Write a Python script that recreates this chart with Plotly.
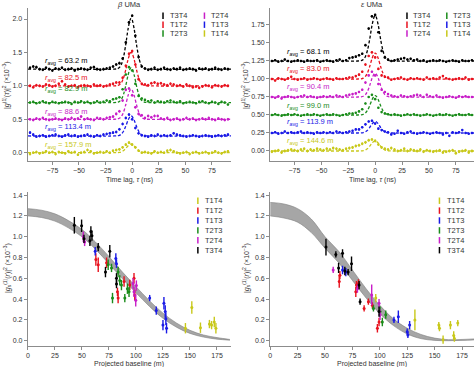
import plotly.graph_objects as go

W, H = 474, 367


def fx(x):
    return x / W


def fy(y):
    return 1 - y / H


# ---------------- data : top panels (time lag, ns) ----------------
tau_ns = list(range(-96, 91, 3))  # 63 lag bins

# beta UMa (values x1e-3, before vertical offset)
bUMa_T3T4 = [0.02, 0.04, 0.03, 0.00, -0.01, 0.02, 0.00, -0.02, 0.01,
             0.00, 0.02, -0.01, 0.00, 0.01, -0.02, 0.00, 0.01, 0.00,
             -0.01, 0.02, 0.03, 0.00, -0.01, 0.00, 0.01, 0.02, 0.04,
             0.07, 0.09, 0.16, 0.40, 0.70, 0.80, 0.50, 0.18, 0.04,
             0.01, -0.01, 0.00, 0.02, -0.01, 0.00, 0.02, 0.00, -0.01,
             0.01, 0.00, 0.02, -0.01, 0.00, 0.01, 0.00, -0.02, 0.01,
             0.00, 0.01, -0.01, 0.00, 0.02, 0.00, -0.01, 0.01, 0.00]
bUMa_T1T2 = [0.00, -0.02, 0.01, 0.00, -0.01, 0.02, 0.01, -0.01, 0.00,
             0.03, 0.07, 0.02, -0.01, 0.00, 0.01, -0.02, 0.00, 0.01,
             0.00, -0.01, 0.02, 0.00, 0.01, -0.01, 0.00, 0.02, 0.03,
             0.05, 0.05, 0.12, 0.30, 0.48, 0.52, 0.32, 0.10, 0.03,
             0.02, 0.01, 0.04, 0.05, 0.03, 0.04, 0.02, 0.01, 0.03,
             0.02, 0.00, 0.01, -0.01, 0.02, 0.00, -0.02, -0.01, -0.03,
             -0.01, 0.01, 0.00, -0.02, 0.01, 0.00, -0.01, 0.01, 0.00]
bUMa_T2T3 = [0.00, 0.01, -0.01, 0.00, 0.02, 0.00, -0.01, 0.01, 0.00,
             -0.01, 0.00, 0.01, 0.00, -0.02, 0.01, 0.00, 0.02, 0.00,
             0.01, -0.01, 0.00, 0.02, 0.00, 0.01, 0.03, 0.02, 0.05,
             0.06, 0.08, 0.20, 0.42, 0.53, 0.48, 0.28, 0.10, 0.06,
             0.04, 0.02, 0.03, 0.00, 0.02, 0.01, 0.00, 0.02, 0.03,
             0.01, 0.00, 0.02, -0.01, 0.00, 0.01, 0.00, -0.01, 0.01,
             0.02, 0.00, -0.01, 0.01, 0.00, -0.02, 0.01, 0.00, -0.03]
bUMa_T2T4 = [0.00, -0.01, 0.01, 0.00, 0.02, 0.00, -0.01, 0.00, 0.01,
             0.00, -0.01, 0.01, 0.00, 0.02, 0.00, 0.01, 0.04, 0.00,
             0.01, 0.00, -0.01, 0.02, 0.01, 0.00, 0.02, 0.03, 0.04,
             0.08, 0.12, 0.28, 0.44, 0.46, 0.36, 0.18, 0.08, 0.06,
             0.02, 0.05, 0.03, 0.05, 0.05, 0.01, 0.00, 0.02, -0.01,
             0.00, 0.01, -0.01, 0.00, 0.02, 0.00, 0.01, -0.01, 0.00,
             0.01, 0.00, 0.02, 0.00, -0.01, 0.01, 0.00, -0.01, 0.00]
bUMa_T1T3 = [0.05, 0.02, -0.01, 0.00, 0.01, -0.01, 0.00, 0.01, 0.02,
             0.00, -0.01, 0.01, 0.02, 0.00, 0.01, -0.01, 0.00, 0.01,
             0.02, 0.00, -0.01, 0.01, 0.00, 0.02, 0.03, 0.04, 0.05,
             0.06, 0.10, 0.18, 0.27, 0.32, 0.25, 0.12, 0.04, 0.01,
             0.00, -0.01, 0.01, 0.00, 0.02, 0.00, 0.01, 0.00, 0.01,
             0.04, 0.02, 0.01, 0.00, -0.01, 0.00, 0.01, 0.00, -0.01,
             0.00, 0.01, 0.00, -0.01, 0.00, 0.01, 0.00, 0.01, 0.02]
bUMa_T1T4 = [-0.02, 0.00, 0.01, -0.01, 0.00, 0.02, 0.00, 0.01, -0.02,
             0.01, 0.00, -0.01, 0.02, 0.00, 0.01, -0.03, 0.00, 0.01,
             0.04, 0.02, -0.01, 0.00, 0.01, 0.00, 0.02, 0.00, 0.03,
             0.04, 0.05, 0.08, 0.12, 0.15, 0.12, 0.08, 0.03, 0.00,
             0.01, 0.00, -0.01, 0.02, 0.00, 0.01, 0.00, 0.03, 0.04,
             0.02, 0.00, -0.01, 0.00, 0.01, -0.02, 0.00, 0.01, -0.01,
             0.00, 0.01, -0.01, 0.00, 0.02, 0.00, -0.01, 0.01, 0.02]

# epsilon UMa
eUMa_T3T4 = [0.00, 0.01, -0.01, 0.00, 0.02, 0.00, -0.01, 0.00, 0.01,
             0.00, -0.01, 0.01, 0.00, 0.00, 0.01, -0.01, 0.00, 0.01,
             0.00, -0.01, 0.01, 0.02, 0.00, 0.01, 0.04, 0.05, 0.06,
             0.08, 0.10, 0.22, 0.45, 0.62, 0.64, 0.40, 0.14, 0.05,
             0.02, 0.00, 0.01, 0.02, 0.03, 0.04, 0.02, 0.03, 0.01,
             0.02, 0.00, 0.01, -0.01, 0.00, 0.01, 0.00, 0.01, 0.00,
             -0.01, 0.00, 0.01, 0.00, -0.01, 0.01, 0.00, 0.00, 0.01]
eUMa_T1T2 = [0.00, -0.02, 0.01, 0.00, -0.01, 0.01, 0.03, 0.00, -0.01,
             0.00, 0.01, -0.01, 0.00, 0.01, 0.00, -0.01, 0.00, 0.01,
             0.00, -0.01, 0.01, 0.00, 0.00, 0.01, 0.02, 0.02, 0.04,
             0.06, 0.10, 0.20, 0.32, 0.37, 0.30, 0.14, 0.05, 0.03,
             0.02, -0.01, 0.00, 0.01, 0.02, 0.00, -0.01, 0.01, 0.00,
             0.01, 0.00, -0.01, 0.02, 0.00, 0.01, 0.00, 0.02, 0.04,
             0.01, 0.00, -0.01, 0.00, 0.01, 0.00, 0.02, -0.01, 0.00]
eUMa_T2T4 = [0.00, -0.01, 0.01, -0.02, 0.00, 0.01, 0.00, -0.01, 0.00,
             0.01, 0.02, 0.00, 0.01, 0.00, -0.01, 0.00, 0.01, 0.00,
             0.01, 0.00, 0.02, 0.01, 0.00, 0.02, 0.03, 0.04, 0.05,
             0.07, 0.10, 0.20, 0.30, 0.35, 0.30, 0.18, 0.10, 0.07,
             0.04, 0.02, 0.01, 0.00, 0.02, 0.01, 0.00, 0.01, 0.02,
             0.03, 0.02, 0.00, 0.03, 0.01, 0.00, 0.02, 0.00, -0.01,
             0.00, 0.01, 0.00, -0.01, 0.01, 0.00, 0.01, 0.00, 0.00]
eUMa_T2T3 = [0.00, 0.01, 0.00, -0.01, 0.00, 0.01, 0.00, 0.01, 0.00,
             -0.01, 0.00, 0.01, 0.00, 0.01, 0.00, -0.01, 0.00, 0.01,
             0.00, 0.01, 0.00, -0.01, 0.00, 0.01, 0.02, 0.02, 0.03,
             0.05, 0.08, 0.16, 0.25, 0.28, 0.22, 0.10, 0.04, 0.02,
             0.01, 0.00, 0.01, 0.00, -0.01, 0.00, 0.01, 0.00, 0.01,
             0.00, -0.01, 0.00, 0.01, 0.00, -0.01, 0.00, 0.01, 0.00,
             0.01, 0.00, -0.01, 0.00, 0.01, 0.00, 0.00, 0.01, 0.00]
eUMa_T1T3 = [0.00, 0.01, -0.01, 0.00, 0.02, 0.00, 0.01, 0.00, 0.01,
             0.02, 0.00, 0.01, 0.00, -0.01, 0.01, 0.00, 0.01, 0.00,
             0.01, 0.00, 0.02, 0.01, 0.00, 0.01, 0.02, 0.03, 0.05,
             0.05, 0.08, 0.12, 0.16, 0.17, 0.13, 0.06, 0.04, 0.02,
             0.01, -0.02, -0.01, 0.03, 0.00, -0.01, 0.01, 0.02, 0.00,
             -0.01, 0.00, 0.01, 0.00, -0.01, 0.00, 0.01, 0.00, -0.02,
             0.00, -0.04, 0.01, 0.00, 0.01, 0.04, 0.00, -0.01, 0.00]
eUMa_T1T4 = [-0.01, 0.00, 0.01, -0.02, 0.00, 0.01, 0.02, 0.01, 0.00,
             0.02, 0.03, 0.00, 0.02, 0.01, 0.03, 0.02, 0.01, 0.03,
             0.02, 0.04, 0.03, 0.02, 0.01, 0.03, 0.04, 0.05, 0.07,
             0.08, 0.10, 0.12, 0.15, 0.16, 0.14, 0.09, 0.05, 0.03,
             0.02, 0.04, 0.02, 0.00, 0.01, 0.03, 0.00, 0.02, 0.01,
             0.00, 0.02, -0.01, 0.01, 0.00, -0.01, 0.00, 0.01, -0.02,
             -0.01, 0.00, 0.01, -0.03, -0.01, 0.00, 0.01, -0.02, 0.00]

# fitted Gaussian peaks (dashed lines): shared normalised profile + amplitudes
fit_tau_b = [-98, -17, -14, -12, -10, -8, -6, -4, -2, -1, 0, 2, 4, 6, 8, 10, 12, 15, 93]
fit_tau_e = [-97, -16, -13, -11, -9, -7, -5, -3, -1, 0, 1, 3, 5, 7, 9, 11, 13, 16, 92]
fit_profile = [0, 0, 0.008, 0.032, 0.10, 0.25, 0.49, 0.775, 0.97, 1.0, 0.97,
               0.775, 0.49, 0.25, 0.10, 0.032, 0.008, 0, 0]

# per-panel series order (top to bottom), offsets, amplitudes, errors, r_avg
b_order = ["T3T4", "T1T2", "T2T3", "T2T4", "T1T3", "T1T4"]
b_values = [bUMa_T3T4, bUMa_T1T2, bUMa_T2T3, bUMa_T2T4, bUMa_T1T3, bUMa_T1T4]
b_fit_amp = [0.76, 0.50, 0.52, 0.45, 0.30, 0.13]
b_err = [0.02, 0.02, 0.015, 0.02, 0.02, 0.02]
b_ravg = [63.2, 82.5, 82.9, 88.6, 113.4, 157.9]
b_label_y = [1.37, 1.12, 0.96, 0.61, 0.39, 0.115]

e_order = ["T3T4", "T1T2", "T2T4", "T2T3", "T1T3", "T1T4"]
e_values = [eUMa_T3T4, eUMa_T1T2, eUMa_T2T4, eUMa_T2T3, eUMa_T1T3, eUMa_T1T4]
e_fit_amp = [0.63, 0.36, 0.33, 0.27, 0.16, 0.14]
e_err = [0.015, 0.015, 0.015, 0.012, 0.015, 0.02]
e_ravg = [68.1, 83.0, 90.4, 99.0, 113.9, 144.6]
e_label_y = [1.37, 1.14, 0.885, 0.625, 0.40, 0.143]

offsets = [1.25, 1.0, 0.75, 0.5, 0.25, 0.0]

# ---------------- data : bottom panels (projected baseline, m) ----------------
# beta UMa
bV = {
    "T1T4": dict(x=[145.8, 151.7, 159.7, 168.0, 170.0, 172.5, 174.0],
                 y=[0.12, 0.32, 0.125, 0.16, 0.15, 0.18, 0.12],
                 e=[0.05, 0.06, 0.05, 0.04, 0.04, 0.05, 0.05]),
    "T1T2": dict(x=[62.9, 65.1, 72.8, 82.9, 83.5, 89.0, 94.3, 98.2, 98.9],
                 y=[0.78, 0.73, 0.75, 0.47, 0.41, 0.57, 0.535, 0.60, 0.44],
                 e=[0.06, 0.07, 0.05, 0.04, 0.05, 0.05, 0.05, 0.05, 0.05]),
    "T1T3": dict(x=[62.3, 81.4, 82.0, 112.7, 118.8, 125.0, 125.9, 127.1, 127.7, 128.3],
                 y=[0.86, 0.79, 0.74, 0.41, 0.29, 0.15, 0.36, 0.28, 0.21, 0.12],
                 e=[0.04, 0.05, 0.04, 0.03, 0.04, 0.05, 0.06, 0.06, 0.06, 0.05]),
    "T2T3": dict(x=[74.3, 77.4, 78.3, 83.5, 85.0, 86.6, 89.7, 92.1, 93.6],
                 y=[0.73, 0.70, 0.41, 0.66, 0.58, 0.535, 0.41, 0.50, 0.47],
                 e=[0.05, 0.04, 0.05, 0.05, 0.05, 0.05, 0.04, 0.05, 0.05]),
    "T2T4": dict(x=[51.3, 52.5, 97.3, 98.2, 99.8, 100.4],
                 y=[1.00, 0.95, 0.55, 0.47, 0.39, 0.53],
                 e=[0.05, 0.04, 0.05, 0.05, 0.06, 0.05]),
    "T3T4": dict(x=[43.0, 49.7, 51.9, 57.4, 58.3, 59.3, 65.1, 71.8, 75.8, 82.0, 82.0],
                 y=[1.11, 1.105, 0.98, 0.96, 1.05, 1.01, 0.90, 0.66, 0.86, 0.60, 0.545],
                 e=[0.08, 0.06, 0.04, 0.05, 0.05, 0.05, 0.04, 0.05, 0.06, 0.05, 0.04]),
}
# epsilon UMa
eV = {
    "T1T4": dict(x=[96.3, 132.0, 153.8, 154.4, 157.7, 164.4, 167.4, 168.0, 171.1],
                 y=[0.41, 0.20, 0.15, 0.12, 0.01, 0.15, 0.05, 0.02, 0.17],
                 e=[0.04, 0.10, 0.03, 0.03, 0.04, 0.04, 0.04, 0.03, 0.03]),
    "T1T2": dict(x=[63.0, 63.6, 78.1, 78.7, 80.5, 85.7, 89.6, 93.2, 97.8, 99.3],
                 y=[0.57, 0.63, 0.47, 0.535, 0.55, 0.31, 0.375, 0.34, 0.12, 0.18],
                 e=[0.06, 0.04, 0.05, 0.04, 0.04, 0.03, 0.03, 0.03, 0.04, 0.04]),
    "T1T3": dict(x=[66.0, 69.0, 112.9, 116.9, 125.0, 125.6, 127.2],
                 y=[0.68, 0.66, 0.20, 0.23, 0.087, 0.055, 0.15],
                 e=[0.04, 0.04, 0.03, 0.06, 0.03, 0.03, 0.04]),
    "T2T3": dict(x=[94.2, 100.2, 102.3, 105.4],
                 y=[0.31, 0.28, 0.18, 0.25],
                 e=[0.03, 0.05, 0.04, 0.04]),
    "T2T4": dict(x=[57.5, 79.6, 92.6, 99.3, 100.2],
                 y=[0.68, 0.50, 0.44, 0.36, 0.25],
                 e=[0.03, 0.04, 0.10, 0.04, 0.05]),
    "T3T4": dict(x=[50.9, 59.9, 62.4, 66.0, 68.1, 71.1, 74.2, 81.1, 82.0, 99.3],
                 y=[0.90, 0.83, 0.70, 0.84, 0.67, 0.66, 0.74, 0.535, 0.375, 0.28],
                 e=[0.08, 0.03, 0.05, 0.04, 0.04, 0.03, 0.07, 0.04, 0.03, 0.05]),
}

# model uncertainty bands (grey)
band_B = [0, 12.5, 25, 37.5, 50, 62.5, 75, 87.5, 100, 112.5, 125, 137.5, 150, 162.5, 175, 187]
b_band_hi = [1.27, 1.255, 1.22, 1.155, 1.07, 0.95, 0.81, 0.66, 0.52, 0.385, 0.265, 0.17, 0.10, 0.055, 0.03, 0.012]
b_band_lo = [1.20, 1.185, 1.15, 1.085, 1.00, 0.88, 0.74, 0.595, 0.46, 0.33, 0.215, 0.13, 0.07, 0.035, 0.015, 0.005]
e_band_hi = [1.33, 1.315, 1.27, 1.17, 1.00, 0.86, 0.68, 0.50, 0.34, 0.21, 0.12, 0.06, 0.025, 0.01, 0.012, 0.018]
e_band_lo = [1.20, 1.18, 1.14, 1.04, 0.89, 0.75, 0.58, 0.41, 0.26, 0.145, 0.065, 0.02, 0.003, 0.0, 0.003, 0.008]

colors = {"T3T4": "#000000", "T1T2": "#e8121e", "T2T3": "#1a8c1a",
          "T2T4": "#c81ec8", "T1T3": "#1a1ae6", "T1T4": "#c8c81a"}

FONT = "Liberation Sans, Arial, Helvetica, sans-serif"
TXT = "#333333"

fig = go.Figure()

# ---------- top panels ----------
def add_time_panel(ax, order, values, amps, errs, fit_tau):
    for name, vals, amp, err, off in zip(order, values, amps, errs, offsets):
        c = colors[name]
        fig.add_trace(go.Scatter(
            x=tau_ns, y=[v + off for v in vals], mode="markers",
            marker=dict(color=c, size=2.6),
            error_y=dict(type="constant", value=err, color=c, thickness=1, width=0),
            xaxis="x" + ax, yaxis="y" + ax, showlegend=False, hoverinfo="skip"))
        fig.add_trace(go.Scatter(
            x=fit_tau, y=[amp * p + off for p in fit_profile], mode="lines",
            line=dict(color=c, width=1.3, dash="3px,2px", shape="spline", smoothing=0.8),
            xaxis="x" + ax, yaxis="y" + ax, showlegend=False, hoverinfo="skip"))


add_time_panel("", b_order, b_values, b_fit_amp, b_err, fit_tau_b)
add_time_panel("2", e_order, e_values, e_fit_amp, e_err, fit_tau_e)

# ---------- bottom panels ----------
def add_vis_panel(ax, data, hi, lo):
    fig.add_trace(go.Scatter(x=band_B, y=lo, mode="lines",
                             line=dict(color="#808080", width=0.6, shape="spline"),
                             xaxis="x" + ax, yaxis="y" + ax, showlegend=False, hoverinfo="skip"))
    fig.add_trace(go.Scatter(x=band_B, y=hi, mode="lines", fill="tonexty",
                             fillcolor="#a6a6a6",
                             line=dict(color="#808080", width=0.6, shape="spline"),
                             xaxis="x" + ax, yaxis="y" + ax, showlegend=False, hoverinfo="skip"))
    for name, d in data.items():
        c = colors[name]
        fig.add_trace(go.Scatter(
            x=d["x"], y=d["y"], mode="markers",
            marker=dict(color=c, size=3),
            error_y=dict(type="data", array=d["e"], color=c, thickness=1.4, width=0),
            xaxis="x" + ax, yaxis="y" + ax, showlegend=False, hoverinfo="skip"))


add_vis_panel("3", bV, b_band_hi, b_band_lo)
add_vis_panel("4", eV, e_band_hi, e_band_lo)

# ---------- axes ----------
axis_common = dict(showgrid=False, zeroline=False, showline=True, linecolor="#8c8c8c",
                   linewidth=1, ticks="outside", ticklen=3, tickcolor="#8c8c8c",
                   tickfont=dict(size=7, color=TXT, family=FONT))

fig.update_layout(
    width=W, height=H, margin=dict(l=0, r=0, t=0, b=0),
    paper_bgcolor="white", plot_bgcolor="white", showlegend=False,
    font=dict(family=FONT, color=TXT),
    xaxis=dict(axis_common, domain=[fx(25.7), fx(230)], range=[-98.3, 92.9],
               tickvals=[-75, -50, -25, 0, 25, 50, 75], anchor="y"),
    yaxis=dict(axis_common, domain=[fy(160.7), fy(8)], range=[-0.12, 2.165],
               tickvals=[0, 0.5, 1.0, 1.5, 2.0], ticktext=["0.0", "0.5", "1.0", "1.5", "2.0"],
               anchor="x"),
    xaxis2=dict(axis_common, domain=[fx(269.3), 1.0], range=[-97.6, 91.9],
                tickvals=[-75, -50, -25, 0, 25, 50, 75], anchor="y2"),
    yaxis2=dict(axis_common, domain=[fy(160.7), fy(8)], range=[-0.135, 1.986],
                tickvals=[0, 0.25, 0.5, 0.75, 1.0, 1.25, 1.5, 1.75],
                ticktext=["0.00", "0.25", "0.50", "0.75", "1.00", "1.25", "1.50", "1.75"],
                anchor="x2"),
    xaxis3=dict(axis_common, domain=[fx(26), fx(230)], range=[0, 188],
                tickvals=[0, 25, 50, 75, 100, 125, 150, 175], anchor="y3"),
    yaxis3=dict(axis_common, domain=[fy(346), fy(192)], range=[-0.051, 1.43],
                tickvals=[0, 0.2, 0.4, 0.6, 0.8, 1.0, 1.2, 1.4],
                ticktext=["0.0", "0.2", "0.4", "0.6", "0.8", "1.0", "1.2", "1.4"],
                anchor="x3"),
    xaxis4=dict(axis_common, domain=[fx(269.3), 1.0], range=[0, 185.9],
                tickvals=[0, 25, 50, 75, 100, 125, 150, 175], anchor="y4"),
    yaxis4=dict(axis_common, domain=[fy(346), fy(192)], range=[-0.051, 1.43],
                tickvals=[0, 0.2, 0.4, 0.6, 0.8, 1.0, 1.2, 1.4],
                ticktext=["0.0", "0.2", "0.4", "0.6", "0.8", "1.0", "1.2", "1.4"],
                anchor="x4"),
)

ann = []
shapes = []

# r_avg labels
for ax, order, ravg, ly, x0 in [("", b_order, b_ravg, b_label_y, -84),
                                ("2", e_order, e_ravg, e_label_y, -83.6)]:
    for name, r, y in zip(order, ravg, ly):
        ann.append(dict(x=x0, y=y, xref="x" + ax, yref="y" + ax, xanchor="left",
                        yanchor="middle", showarrow=False,
                        text="<i>r</i><sub>avg</sub> = %.1f m" % r,
                        font=dict(size=7.5, color=colors[name], family=FONT)))

# titles
def paper_text(x, y, text, size=7.5, angle=0):
    ann.append(dict(x=fx(x), y=fy(y), xref="paper", yref="paper", text=text,
                    showarrow=False, xanchor="center", yanchor="middle",
                    textangle=angle, font=dict(size=size, color=TXT, family=FONT)))


paper_text(128, 4, "<i>β</i> UMa", 7.5)
paper_text(372, 4, "<i>ε</i> UMa", 7.5)
paper_text(128, 180, "Time lag, <i>τ</i> (ns)", 7)
paper_text(372, 180, "Time lag, <i>τ</i> (ns)", 7)
paper_text(128, 363.5, "Projected baseline (m)", 7)
paper_text(372, 363.5, "Projected baseline (m)", 7)
paper_text(5, 85, "|<i>g</i><sup>(1)</sup>(<i>τ</i>)|<sup>2</sup> (×10<sup>−3</sup>)", 7, -90)
paper_text(245, 85, "|<i>g</i><sup>(1)</sup>(<i>τ</i>)|<sup>2</sup> (×10<sup>−3</sup>)", 7, -90)
paper_text(5, 268, "|<i>g</i><sub>s</sub><sup>(1)</sup>(<i>r</i>)|<sup>2</sup> (×10<sup>−3</sup>)", 7, -90)
paper_text(245, 268, "|<i>g</i><sub>s</sub><sup>(1)</sup>(<i>r</i>)|<sup>2</sup> (×10<sup>−3</sup>)", 7, -90)

# legends (glyph + label)
def legend_entry(gx, tx, y, name):
    shapes.append(dict(type="line", xref="paper", yref="paper",
                       x0=fx(gx), x1=fx(gx), y0=fy(y - 3.2), y1=fy(y + 3.2),
                       line=dict(color=colors[name], width=1.5)))
    ann.append(dict(x=fx(tx), y=fy(y), xref="paper", yref="paper", text=name,
                    showarrow=False, xanchor="left", yanchor="middle",
                    font=dict(size=7.5, color=TXT, family=FONT)))


rows_top = [15.7, 24.7, 33.5]
for name, y in zip(["T3T4", "T1T2", "T2T3"], rows_top):
    legend_entry(161.7, 166.5, y, name)
for name, y in zip(["T2T4", "T1T3", "T1T4"], rows_top):
    legend_entry(203.3, 207.8, y, name)
for name, y in zip(["T3T4", "T1T2", "T2T4"], rows_top):
    legend_entry(406.7, 410.5, y, name)
for name, y in zip(["T2T3", "T1T3", "T1T4"], rows_top):
    legend_entry(446.7, 450.5, y, name)
rows_bot = [200.7, 210.6, 220.5, 230.4, 240.3, 250.2]
bot_order = ["T1T4", "T1T2", "T1T3", "T2T3", "T2T4", "T3T4"]
for name, y in zip(bot_order, rows_bot):
    legend_entry(196.7, 201.8, y, name)
    legend_entry(439.3, 444.8, y, name)

fig.update_layout(annotations=ann, shapes=shapes)
fig.write_html("out.html", config={"displayModeBar": False},
               post_script="document.body.style.margin='0';"
                           "document.body.style.padding='0';"
                           "document.body.style.overflow='hidden';")
